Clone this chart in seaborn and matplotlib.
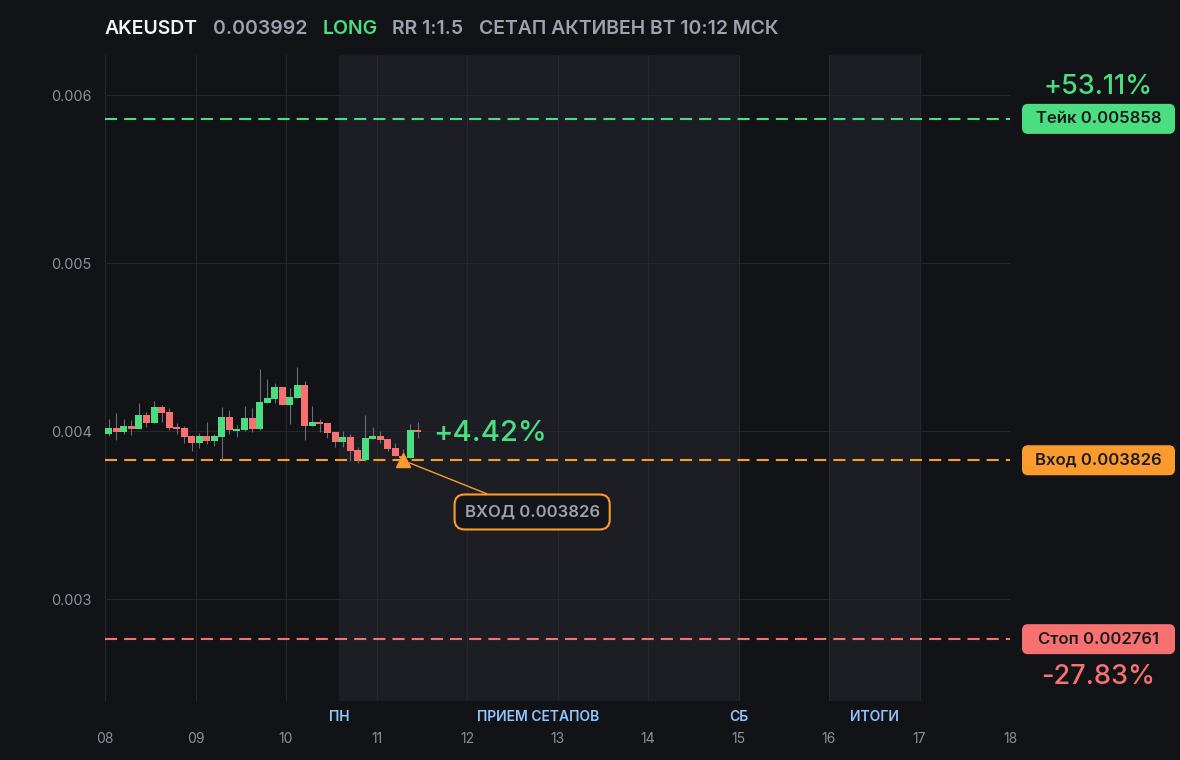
import matplotlib
matplotlib.use('Agg')
import matplotlib.pyplot as plt
from matplotlib.patches import FancyBboxPatch
import matplotlib.transforms as mtransforms
import seaborn as sns

# ── data ─────────────────────────────────────────────
symbol = 'AKEUSDT'
last_price = '0.003992'
side = 'LONG'
rr_text = 'RR 1:1.5'
status_text = 'СЕТАП АКТИВЕН ВТ 10:12 МСК'

# 2h candles starting on day 08 00:00
opens = [0.003982, 0.004018, 0.003996, 0.004030, 0.004014, 0.004095, 0.004050,
         0.004143, 0.004113, 0.004024, 0.004018, 0.003970, 0.003929, 0.003970,
         0.003940, 0.003964, 0.004083, 0.004000, 0.004006, 0.004077, 0.004012,
         0.004167, 0.004190, 0.004262, 0.004155, 0.004196, 0.004274, 0.004030,
         0.004054, 0.004048, 0.003994, 0.003935, 0.003964, 0.003887, 0.003827,
         0.003952, 0.003970, 0.003952, 0.003899, 0.003851, 0.003839, 0.004006]
highs = [0.004071, 0.004107, 0.004071, 0.004065, 0.004167, 0.004113, 0.004179,
         0.004155, 0.004137, 0.004048, 0.004030, 0.003976, 0.003988, 0.004054,
         0.003982, 0.004143, 0.004125, 0.004036, 0.004149, 0.004137, 0.004369,
         0.004310, 0.004286, 0.004262, 0.004256, 0.004380, 0.004298, 0.004149,
         0.004071, 0.004048, 0.003994, 0.004000, 0.003982, 0.003905, 0.004095,
         0.004024, 0.004000, 0.003952, 0.003929, 0.003893, 0.004042, 0.004054]
lows = [0.003970, 0.003946, 0.003984, 0.003976, 0.004010, 0.004026, 0.004050,
        0.004056, 0.004006, 0.003982, 0.003929, 0.003881, 0.003899, 0.003923,
        0.003911, 0.003827, 0.003982, 0.003964, 0.004000, 0.003994, 0.004006,
        0.004167, 0.004167, 0.004155, 0.004042, 0.004196, 0.003946, 0.004030,
        0.003994, 0.003958, 0.003905, 0.003905, 0.003821, 0.003810, 0.003821,
        0.003952, 0.003929, 0.003881, 0.003851, 0.003826, 0.003839, 0.003958]
closes = [0.004018, 0.003996, 0.004030, 0.004014, 0.004095, 0.004050, 0.004143,
          0.004109, 0.004018, 0.004012, 0.003964, 0.003929, 0.003970, 0.003940,
          0.003970, 0.004083, 0.004006, 0.004012, 0.004077, 0.004012, 0.004173,
          0.004196, 0.004262, 0.004155, 0.004202, 0.004274, 0.004030, 0.004054,
          0.004042, 0.003988, 0.003935, 0.003964, 0.003881, 0.003827, 0.003958,
          0.003970, 0.003946, 0.003893, 0.003851, 0.003838, 0.004006, 0.003992]
start_day = 8.0
candle_days = 2 / 24

take_price = 0.005858
entry_price = 0.003826
stop_price = 0.002761
take_label = 'Тейк 0.005858'
entry_label = 'Вход 0.003826'
stop_label = 'Стоп 0.002761'
entry_note = 'ВХОД 0.003826'
take_pct = '+53.11%'
stop_pct = '-27.83%'
move_pct = '+4.42%'
entry_idx = 39

day_ticks = list(range(8, 19))
day_tick_labels = ['%02d' % d for d in day_ticks]
y_ticks = [0.003, 0.004, 0.005, 0.006]

sessions = [(10.583, 15.0), (16.0, 17.0)]
session_names = ['ПН', 'ПРИЕМ СЕТАПОВ', 'СБ', 'ИТОГИ']
session_pos = [10.583, 12.79, 15.0, 16.5]

# ── style ────────────────────────────────────────────
BG = '#121317'
SHADE = '#1d1e23'
GRID = '#26282e'
GREEN = '#4ade80'
RED = '#f87171'
ORANGE = '#fb9b2e'
GRAY = '#9ca3af'
WICK = '#6b6e76'
BLUE = '#93c5fd'

sns.set_theme(style='darkgrid', rc={
    'figure.facecolor': BG, 'axes.facecolor': BG, 'axes.edgecolor': BG,
    'grid.color': GRID, 'grid.linewidth': 0.8,
})
plt.rcParams['font.family'] = ['Inter', 'DejaVu Sans']

W, H = 1180, 760
fig = plt.figure(figsize=(W / 100, H / 100), dpi=100)
ax = fig.add_axes([105 / W, 59 / H, 905 / W, 646 / H])
ax.set_xlim(8, 18)
ax.set_ylim(0.0023929, 0.0062381)
ax.set_axisbelow(True)

for a, b in sessions:
    ax.axvspan(a, b, color=SHADE, zorder=0.2, lw=0)

# candles
xs = [start_day + i * candle_days + candle_days / 2 for i in range(len(opens))]
cols = [GREEN if c >= o else RED for o, c in zip(opens, closes)]
ax.vlines(xs, lows, highs, color=WICK, lw=0.8, zorder=2)
ax.bar(xs, [max(abs(c - o), 0.000008) for o, c in zip(opens, closes)],
       bottom=[min(o, c) for o, c in zip(opens, closes)],
       width=candle_days * 0.93, color=cols, lw=0, zorder=3)

# levels
for price, col in [(take_price, GREEN), (entry_price, ORANGE), (stop_price, RED)]:
    ax.axhline(price, color=col, lw=1.5, ls=(0, (5.8, 3.4)), zorder=1.5)

entry_x = xs[entry_idx]
ax.plot(entry_x, entry_price, marker='^', ms=10, color=ORANGE, zorder=5, lw=0)
ax.annotate(entry_note, xy=(entry_x, entry_price), xytext=(12.72, 0.003518),
            ha='center', va='center', fontsize=12, color=GRAY, weight='semibold',
            bbox=dict(boxstyle='round,pad=0.6,rounding_size=0.6', fc='#141519',
                      ec=ORANGE, lw=1.5),
            arrowprops=dict(arrowstyle='-', color=ORANGE, lw=1, shrinkA=0, shrinkB=5),
            zorder=6)
ax.text(xs[-1] + 0.165, closes[-1] - 0.000005, move_pct, color=GREEN, fontsize=21,
        weight='medium', va='center', ha='left', zorder=6)

# axes ticks
ax.set_xticks(day_ticks)
ax.set_xticklabels(day_tick_labels)
ax.set_yticks(y_ticks)
ax.set_yticklabels(['%.3f' % v for v in y_ticks])
ax.tick_params(axis='x', colors='#8b8f98', labelsize=10, length=0, pad=22)
ax.tick_params(axis='y', colors='#8b8f98', labelsize=10.5, length=0, pad=9.5)
ax.grid(True)
for s in ax.spines.values():
    s.set_visible(False)

trans = mtransforms.blended_transform_factory(ax.transData, ax.transAxes)
for name, pos in zip(session_names, session_pos):
    ax.text(pos, -0.0248, name, transform=trans, ha='center', va='center',
            fontsize=10, weight='semibold', color=BLUE, clip_on=False)

# ── overlay in pixel coords (title, right labels) ───
ov = fig.add_axes([0, 0, 1, 1], zorder=10)
ov.set_xlim(0, W)
ov.set_ylim(0, H)
ov.axis('off')
ov.patch.set_alpha(0)

renderer = fig.canvas.get_renderer()
x = 105
for txt, col in [(symbol, '#f3f4f6'), (last_price, GRAY), (side, GREEN),
                 (rr_text, GRAY), (status_text, GRAY)]:
    t = ov.text(x, H - 34.5, txt, color=col, fontsize=14, weight='semibold',
                ha='left', va='baseline')
    bb = t.get_window_extent(renderer)
    x = bb.x1 + 15

def price_px(p):
    return ax.transData.transform((8, p))[1]

for price, col, lab in [(take_price, GREEN, take_label),
                        (entry_price, ORANGE, entry_label),
                        (stop_price, RED, stop_label)]:
    yc = price_px(price)
    ov.add_patch(FancyBboxPatch((1022, yc - 15), 153, 30,
                                boxstyle='round,pad=0,rounding_size=6',
                                fc=col, ec='none'))
    ov.text(1098.5, yc, lab, ha='center', va='center', fontsize=12,
            weight='semibold', color='#1a1b1e')

ov.text(1098.5, price_px(take_price) + 32, take_pct, ha='center', va='center',
        fontsize=19.5, weight='medium', color=GREEN)
ov.text(1098.5, price_px(stop_price) - 38, stop_pct, ha='center', va='center',
        fontsize=19.5, weight='medium', color=RED)

fig.savefig('out.png', dpi=100, facecolor=BG)
